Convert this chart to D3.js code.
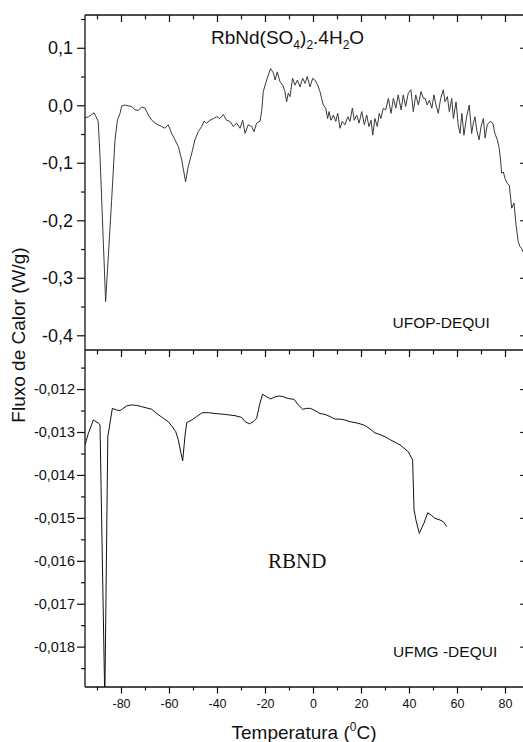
<!DOCTYPE html>
<html>
<head>
<meta charset="utf-8">
<script src="https://cdn.jsdelivr.net/npm/d3@7"></script>
<style>
  html, body { margin: 0; padding: 0; background: #fff; }
  svg { display: block; font-family: "Liberation Sans", Arial, Helvetica, sans-serif; }
</style>
</head>
<body>
<svg id="chart" width="523" height="742"></svg>
<script>
// DSC trace measured at UFOP-DEQUI: temperature (°C) and heat flow (W/g)
const ufopTemp = [
  -95.0, -93.6, -92.5, -91.25, -90.4, -89.5, -88.75, -86.4, -83.9, -82.5,
  -81.5, -80.4, -79.7, -78.3, -77.0, -75.5, -74.2, -72.8, -71.4, -70.0,
  -68.6, -67.2, -65.8, -64.5, -63.0, -61.7, -60.3, -58.9, -57.5, -56.1,
  -54.7, -53.1, -52.0, -50.5, -49.2, -47.8, -46.4, -45.4, -44.3, -42.9,
  -41.5, -40.1, -38.75, -37.4, -36.0, -34.6, -33.2, -31.8, -30.4, -29.3,
  -28.3, -27.0, -25.5, -24.6, -23.5, -22.1, -21.4, -20.7, -19.3, -17.7,
  -16.5, -15.8, -14.9, -13.75, -12.6, -11.7, -11.0, -10.3, -9.6, -8.5,
  -7.5, -6.5, -5.4, -4.3, -3.3, -2.4, -1.25, -0.1, 0.8, 1.9,
  2.9, 3.6, 4.3, 5.3, 6.1, 6.7, 7.5, 8.5, 9.5, 10.3,
  11.25, 12.2, 13.3, 14.5, 15.4, 16.4, 17.2, 18.2, 19.2, 20.3,
  21.4, 22.4, 23.3, 24.2, 24.9, 25.8, 26.8, 27.6, 28.3, 29.3,
  30.3, 31.4, 32.5, 33.5, 34.5, 35.5, 36.7, 37.6, 38.6, 39.7,
  40.8, 41.8, 42.8, 43.9, 45.0, 46.0, 46.7, 47.6, 48.5, 49.5,
  50.4, 51.25, 52.2, 53.2, 54.3, 55.0, 56.0, 56.8, 57.8, 58.5,
  59.6, 60.5, 61.25, 62.0, 62.9, 64.0, 65.1, 66.1, 66.8, 67.5,
  68.2, 69.2, 70.0, 71.0, 71.7, 72.6, 73.75, 74.9, 75.8, 76.8,
  77.6, 78.2, 78.6, 79.3, 80.0, 80.96, 81.8, 82.8, 83.75, 84.6,
  85.5, 86.25, 86.9, 87.5
];
const ufopFlux = [
  -0.022, -0.020, -0.017, -0.013, -0.020, -0.028, -0.089, -0.3415, -0.165, -0.060,
  -0.026, -0.014, -0.001, 0.0005, -0.001, -0.002, -0.008, -0.009, -0.003, -0.005,
  -0.017, -0.026, -0.031, -0.034, -0.037, -0.040, -0.034, -0.049, -0.060, -0.072,
  -0.095, -0.133, -0.107, -0.083, -0.060, -0.046, -0.037, -0.028, -0.031, -0.026,
  -0.023, -0.020, -0.023, -0.016, -0.026, -0.028, -0.037, -0.031, -0.040, -0.026,
  -0.049, -0.034, -0.037, -0.046, -0.031, -0.028, -0.011, 0.024, 0.044, 0.064,
  0.056, 0.044, 0.058, 0.041, 0.035, 0.024, 0.006, 0.021, 0.015, 0.047,
  0.035, 0.044, 0.032, 0.047, 0.038, 0.050, 0.032, 0.047, 0.044, 0.036,
  0.024, 0.012, 0.0005, -0.005, -0.023, -0.011, -0.026, -0.017, -0.028, -0.014,
  -0.040, -0.028, -0.034, -0.020, -0.028, -0.005, -0.026, -0.017, -0.031, -0.011,
  -0.034, -0.017, -0.037, -0.026, -0.052, -0.023, -0.037, -0.014, -0.023, -0.005,
  -0.008, 0.012, -0.014, 0.012, -0.005, 0.018, -0.008, 0.018, -0.002, 0.021,
  0.027, -0.011, 0.018, 0.0005, 0.024, 0.012, 0.012, 0.0005, 0.009, -0.005,
  0.018, 0.0005, -0.014, 0.012, 0.027, 0.006, 0.015, -0.011, 0.012, -0.023,
  0.006, -0.034, -0.049, -0.014, -0.052, -0.020, 0.0005, -0.049, -0.031, -0.020,
  -0.043, -0.060, -0.037, -0.023, -0.057, -0.034, -0.028, -0.031, -0.049, -0.060,
  -0.075, -0.098, -0.118, -0.116, -0.127, -0.136, -0.139, -0.179, -0.170, -0.208,
  -0.237, -0.246, -0.249, -0.255
];

// DSC trace measured at UFMG-DEQUI: temperature (°C) and heat flow (W/g)
const ufmgTemp = [
  -95.0, -93.6, -91.5, -89.2, -88.75, -86.75, -85.5, -83.6, -81.8, -80.4,
  -79.5, -77.6, -75.5, -73.5, -71.4, -69.3, -67.2, -65.1, -62.4, -60.3,
  -58.6, -57.2, -56.1, -55.0, -54.3, -53.3, -52.6, -50.5, -48.5, -46.1,
  -43.6, -40.8, -36.7, -32.5, -29.7, -28.3, -26.5, -24.9, -23.5, -22.1,
  -21.0, -19.3, -17.6, -15.8, -14.0, -12.4, -10.3, -7.9, -6.1, -4.3,
  -2.6, -1.0, 0.8, 2.9, 5.0, 7.1, 9.2, 11.25, 13.3, 15.4,
  17.5, 19.6, 21.7, 23.75, 25.8, 27.9, 30.0, 31.8, 34.2, 36.25,
  39.7, 41.5, 42.1, 42.9, 44.3, 46.25, 47.8, 49.5, 50.8, 52.9,
  54.3, 55.7
];
const ufmgFlux = [
  -0.01330, -0.01303, -0.01272, -0.01280, -0.01284, -0.01925, -0.01311, -0.01245, -0.01249, -0.01250,
  -0.01247, -0.01239, -0.01237, -0.01238, -0.01241, -0.01244, -0.01247, -0.01257, -0.01268, -0.01276,
  -0.01288, -0.01299, -0.01319, -0.01350, -0.01367, -0.01307, -0.01278, -0.01272, -0.01264, -0.01255,
  -0.01255, -0.01257, -0.01259, -0.01262, -0.01266, -0.01276, -0.01281, -0.01276, -0.01268, -0.01233,
  -0.01212, -0.01218, -0.01223, -0.01218, -0.01216, -0.01218, -0.01222, -0.01224, -0.01237, -0.01247,
  -0.01245, -0.01245, -0.01250, -0.01257, -0.01259, -0.01264, -0.01270, -0.01270, -0.01272, -0.01276,
  -0.01278, -0.01281, -0.01285, -0.01293, -0.01302, -0.01306, -0.01311, -0.01317, -0.01324, -0.01330,
  -0.01346, -0.01365, -0.01481, -0.01505, -0.01536, -0.01512, -0.01488, -0.01495, -0.01501, -0.01505,
  -0.01509, -0.01520
];

// Axis ticks and their labels (decimal comma)
const xMajorTicks = [-80, -60, -40, -20, 0, 20, 40, 60, 80];
const xMajorLabels = ["-80", "-60", "-40", "-20", "0", "20", "40", "60", "80"];
const xMinorTicks = [-90, -70, -50, -30, -10, 10, 30, 50, 70];
const topYTicks = [0.1, 0.0, -0.1, -0.2, -0.3, -0.4];
const topYLabels = ["0,1", "0,0", "-0,1", "-0,2", "-0,3", "-0,4"];
const topYMinor = [0.15, 0.05, -0.05, -0.15, -0.25, -0.35];
const botYTicks = [-0.012, -0.013, -0.014, -0.015, -0.016, -0.017, -0.018];
const botYLabels = ["-0,012", "-0,013", "-0,014", "-0,015", "-0,016", "-0,017", "-0,018"];
const botYMinor = [-0.0115, -0.0125, -0.0135, -0.0145, -0.0155, -0.0165, -0.0175, -0.0185];

const svg = d3.select("#chart");
const W = 523, H = 742;
const plotL = 85, plotR = 524.2, plotT = 15, plotMid = 350, plotB = 687;
const ink = "#111";

svg.append("rect").attr("width", W).attr("height", H).attr("fill", "#fff");

const x = d3.scaleLinear().domain([-95, 88]).range([plotL, plotR]);
const yTop = d3.scaleLinear().domain([-0.4256, 0.157]).range([plotMid, plotT]);
const yBot = d3.scaleLinear().domain([-0.01894, -0.01109]).range([plotB, plotMid]);

const defs = svg.append("defs");
defs.append("clipPath").attr("id", "clipTop")
  .append("rect").attr("x", plotL).attr("y", plotT).attr("width", plotR - plotL).attr("height", plotMid - plotT);
defs.append("clipPath").attr("id", "clipBot")
  .append("rect").attr("x", plotL).attr("y", plotMid).attr("width", plotR - plotL).attr("height", plotB - plotMid);

// data curves
const lineTop = d3.line().x((d, i) => x(ufopTemp[i])).y(d => yTop(d));
const lineBot = d3.line().x((d, i) => x(ufmgTemp[i])).y(d => yBot(d));

svg.append("path").attr("clip-path", "url(#clipTop)")
  .attr("d", lineTop(ufopFlux))
  .attr("fill", "none").attr("stroke", "#3a3a3a").attr("stroke-width", 1)
  .attr("stroke-linejoin", "round");

svg.append("path").attr("clip-path", "url(#clipBot)")
  .attr("d", lineBot(ufmgFlux))
  .attr("fill", "none").attr("stroke", "#111").attr("stroke-width", 1)
  .attr("stroke-linejoin", "round");

// axis helper: strips the domain path and styles ticks
function styleAxis(g, fontSize) {
  g.select(".domain").remove();
  g.selectAll(".tick line").attr("stroke", ink).attr("stroke-width", 1.2);
  g.selectAll(".tick text").attr("fill", ink)
    .style("font-family", "'Liberation Sans', Arial, sans-serif")
    .style("font-size", fontSize + "px");
}

// left axis, upper panel
svg.append("g").attr("transform", `translate(${plotL},0)`)
  .call(d3.axisLeft(yTop).tickValues(topYTicks).tickFormat((d, i) => topYLabels[i]).tickSize(8).tickPadding(4))
  .call(g => styleAxis(g, 18));
svg.append("g").attr("transform", `translate(${plotL},0)`)
  .call(d3.axisLeft(yTop).tickValues(topYMinor).tickFormat("").tickSize(4))
  .call(g => styleAxis(g, 10));

// left axis, lower panel
svg.append("g").attr("transform", `translate(${plotL},0)`)
  .call(d3.axisLeft(yBot).tickValues(botYTicks).tickFormat((d, i) => botYLabels[i]).tickSize(8).tickPadding(2))
  .call(g => styleAxis(g, 14.5));
svg.append("g").attr("transform", `translate(${plotL},0)`)
  .call(d3.axisLeft(yBot).tickValues(botYMinor).tickFormat("").tickSize(4))
  .call(g => styleAxis(g, 10));

// right axis ticks (inward)
svg.append("g").attr("transform", `translate(${plotR},0)`)
  .call(d3.axisLeft(yTop).tickValues(topYTicks).tickFormat("").tickSize(4))
  .call(g => styleAxis(g, 10));
svg.append("g").attr("transform", `translate(${plotR},0)`)
  .call(d3.axisLeft(yBot).tickValues(botYTicks).tickFormat("").tickSize(4))
  .call(g => styleAxis(g, 10));

// top edge ticks (inward, pointing down) for upper panel and for lower panel
[plotT, plotMid].forEach(yy => {
  svg.append("g").attr("transform", `translate(0,${yy})`)
    .call(d3.axisBottom(x).tickValues(xMajorTicks).tickFormat("").tickSize(7))
    .call(g => styleAxis(g, 10));
  svg.append("g").attr("transform", `translate(0,${yy})`)
    .call(d3.axisBottom(x).tickValues(xMinorTicks).tickFormat("").tickSize(4.5))
    .call(g => styleAxis(g, 10));
});

// bottom axis (outward)
svg.append("g").attr("transform", `translate(0,${plotB})`)
  .call(d3.axisBottom(x).tickValues(xMajorTicks).tickFormat((d, i) => xMajorLabels[i]).tickSize(6.5).tickPadding(6))
  .call(g => styleAxis(g, 12.5));
svg.append("g").attr("transform", `translate(0,${plotB})`)
  .call(d3.axisBottom(x).tickValues(xMinorTicks).tickFormat("").tickSize(3.5))
  .call(g => styleAxis(g, 10));

// frame lines
const frame = svg.append("g").attr("stroke", ink).attr("stroke-width", 1.3).attr("fill", "none");
frame.append("line").attr("x1", plotL).attr("x2", plotL).attr("y1", plotT).attr("y2", plotB);
frame.append("line").attr("x1", plotR).attr("x2", plotR).attr("y1", plotT).attr("y2", plotB);
frame.append("line").attr("x1", plotL).attr("x2", plotR).attr("y1", plotT).attr("y2", plotT);
frame.append("line").attr("x1", plotL).attr("x2", plotR).attr("y1", plotMid).attr("y2", plotMid);
frame.append("line").attr("x1", plotL).attr("x2", plotR).attr("y1", plotB).attr("y2", plotB);

// annotations
const title = svg.append("text").attr("x", 211).attr("y", 44)
  .attr("fill", ink).style("font-size", "19px");
title.append("tspan").text("RbNd(SO");
title.append("tspan").text("4").style("font-size", "12px").attr("dy", 5);
title.append("tspan").text(")").attr("dy", -5);
title.append("tspan").text("2").style("font-size", "12px").attr("dy", 5);
title.append("tspan").text(".4H").attr("dy", -5);
title.append("tspan").text("2").style("font-size", "12px").attr("dy", 5);
title.append("tspan").text("O").attr("dy", -5);

svg.append("text").attr("x", 392.5).attr("y", 328)
  .attr("fill", ink).style("font-size", "15.5px").text("UFOP-DEQUI");

svg.append("text").attr("x", 393).attr("y", 657)
  .attr("fill", ink).style("font-size", "15.5px").text("UFMG -DEQUI");

svg.append("text").attr("x", 268).attr("y", 568)
  .attr("fill", ink).style("font-family", "'Liberation Serif', 'Times New Roman', serif")
  .style("font-size", "21px").text("RBND");

// axis titles
const xTitle = svg.append("text").attr("x", 231.5).attr("y", 739)
  .attr("fill", ink).style("font-size", "19px");
xTitle.append("tspan").text("Temperatura (");
xTitle.append("tspan").text("0").style("font-size", "12px").attr("dy", -8);
xTitle.append("tspan").text("C)").attr("dy", 8);

svg.append("text")
  .attr("transform", "translate(25,335) rotate(-90)")
  .attr("text-anchor", "middle")
  .attr("fill", ink).style("font-size", "19px")
  .text("Fluxo de Calor (W/g)");
</script>
</body>
</html>
